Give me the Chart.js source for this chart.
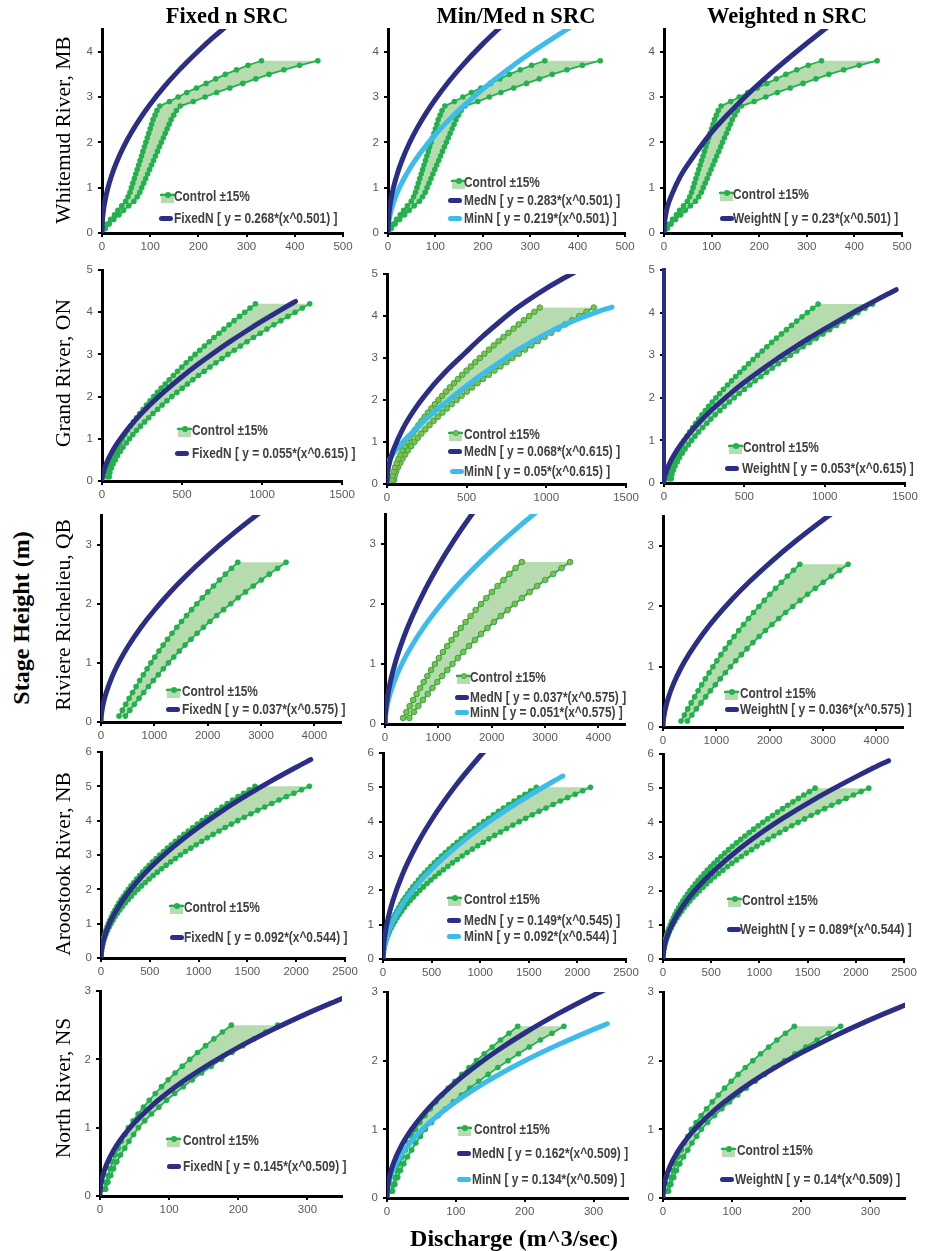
<!DOCTYPE html>
<html><head><meta charset="utf-8">
<script src="https://cdn.jsdelivr.net/npm/chart.js@4.4.1/dist/chart.umd.min.js"></script>
<style>
html,body{margin:0;padding:0;background:#fff;}
body{position:relative;width:925px;height:1251px;overflow:hidden;}
.ttl{position:absolute;font-family:"Liberation Serif","Times New Roman",serif;font-weight:bold;white-space:nowrap;color:#000;transform:translateX(-50%);}
.rot{position:absolute;white-space:nowrap;font-family:"Liberation Serif","Times New Roman",serif;color:#000;transform:translate(-50%,-50%) rotate(-90deg);line-height:1;}
.lg{position:absolute;font-family:"Liberation Sans Narrow","Arial Narrow","Liberation Sans",sans-serif;font-weight:bold;font-size:14px;line-height:16px;color:#404040;white-space:nowrap;transform:scaleX(0.85);transform-origin:0 50%;}
.sw{position:absolute;}
canvas{position:absolute;}
</style></head><body>
<script>
// ---------------- DATA ----------------
const COL_TITLES = ['Fixed n SRC', 'Min/Med n SRC', 'Weighted n SRC'];
const ROW_TITLES = ['Whitemud River, MB', 'Grand River, ON', 'Riviere Richelieu, QB', 'Aroostook River, NB', 'North River, NS'];
const X_MAX = [500, 1500, 4500, 2500, 350];
const Y_MAX = [4.5, 5, 3.5, 6, 3];
const X_TICKS = [[0,100,200,300,400,500],[0,500,1000,1500],[0,1000,2000,3000,4000],[0,500,1000,1500,2000,2500],[0,100,200,300]];
const Y_TICKS = [[0,1,2,3,4],[0,1,2,3,4,5],[0,1,2,3],[0,1,2,3,4,5,6],[0,1,2,3]];

// Control rating curves (stage m, discharge -15% / +15%)
const wmStage = [0.1,0.2,0.3,0.4,0.5,0.6,0.7,0.8,0.9,1.0,1.1,1.2,1.3,1.4,1.5,1.6,1.7,1.8,1.9,2.0,2.1,2.2,2.3,2.4,2.5,2.6,2.7,2.8,2.9,3.0,3.1,3.2,3.3,3.4,3.5,3.6,3.7,3.8];
const wmLow  = [5,11,18,26,33,41,49,54,58,61,64,67,70,73,76,79,82,85,88,91,94,97,100,103,106,110,114,120,140,158,176,196,216,236,256,279,303,331];
const wmHigh = [6.8,14.9,24.4,35.2,44.6,55.5,66.3,73.1,78.5,82.5,86.6,90.7,94.7,98.8,102.8,106.9,110.9,115.0,119.1,123.1,127.2,131.2,135.3,139.4,143.4,148.8,154.2,162.4,189.4,213.8,238.1,265.2,292.2,319.3,346.4,377.5,410.0,447.8];

const grStage = [0.1,0.2,0.3,0.4,0.5,0.6,0.7,0.8,0.9,1.0,1.1,1.2,1.3,1.4,1.5,1.6,1.7,1.8,1.9,2.0,2.1,2.2,2.3,2.4,2.5,2.6,2.7,2.8,2.9,3.0,3.1,3.2,3.3,3.4,3.5,3.6,3.7,3.8,3.9,4.0,4.1,4.2];
const grLow  = [33,36,43,51,61,72,84,97,112,127,143,160,178,197,216,236,257,278,300,323,346,370,395,420,446,472,499,526,554,582,611,640,670,700,731,762,794,826,859,892,925,959];
const grHigh = [45,49,58,69,83,97,114,131,152,172,193,216,241,267,292,319,348,376,406,437,468,501,534,568,603,639,675,712,750,787,827,866,906,947,989,1031,1074,1118,1162,1207,1252,1298];

const rrStage = [0.1,0.2,0.3,0.4,0.5,0.6,0.7,0.8,0.9,1.0,1.1,1.2,1.3,1.4,1.5,1.6,1.7,1.8,1.9,2.0,2.1,2.2,2.3,2.4,2.5,2.6,2.7];
const rrLow  = [338,400,463,527,592,658,725,794,864,935,1009,1086,1165,1247,1332,1420,1510,1604,1699,1798,1899,2004,2110,2220,2332,2447,2565];
const rrHigh = [457,541,626,713,801,890,981,1074,1169,1265,1365,1469,1576,1687,1802,1921,2043,2170,2299,2433,2569,2711,2855,3004,3155,3311,3470];

const arStage = [0.1,0.2,0.3,0.4,0.5,0.6,0.7,0.8,0.9,1.0,1.1,1.2,1.3,1.4,1.5,1.6,1.7,1.8,1.9,2.0,2.1,2.2,2.3,2.4,2.5,2.6,2.7,2.8,2.9,3.0,3.1,3.2,3.3,3.4,3.5,3.6,3.7,3.8,3.9,4.0,4.1,4.2,4.3,4.4,4.5,4.6,4.7,4.8,4.9,5.0];
const arLow  = [1.0,3.6,7.8,13.4,20.5,28.9,38.6,49.7,62.1,75.7,90.6,106.8,124.2,142.8,162.7,183.8,206.0,229.5,254.2,280.0,307.0,335.2,364.5,395.0,426.6,459.4,493.4,528.3,564.5,601.8,640.2,679.8,720.4,762.2,805.0,848.9,894.0,940.1,987.4,1035.6,1085.0,1135.4,1187.0,1239.6,1293.3,1348.1,1404.1,1460.7,1518.5,1577.8];
const arHigh = [1.3,4.9,10.6,18.1,27.7,39.1,52.2,67.2,84.0,102.4,122.6,144.5,168.0,193.2,220.1,248.7,278.7,310.5,343.9,378.8,415.4,453.5,493.2,534.4,577.2,621.6,667.6,714.8,763.8,814.2,866.2,919.8,974.7,1031.3,1089.2,1148.6,1209.6,1271.9,1336.0,1401.2,1468.0,1536.2,1606.0,1677.2,1749.8,1824.0,1899.7,1976.3,2054.6,2134.8];

const nrStage = [0.1,0.2,0.3,0.4,0.5,0.6,0.7,0.8,0.9,1.0,1.1,1.2,1.3,1.4,1.5,1.6,1.7,1.8,1.9,2.0,2.1,2.2,2.3,2.4,2.5];
const nrLow  = [6.0,8.5,11.5,14.5,18.0,22.0,26.5,31.0,36.0,41.0,47.8,55.1,62.9,71.2,79.9,89.0,98.6,108.6,119.0,129.9,141.1,152.7,164.7,177.1,189.9];
const nrHigh = [8.1,11.5,15.6,19.6,24.4,29.8,35.9,41.9,48.7,55.5,64.7,74.5,85.1,96.3,108.1,120.4,133.4,146.9,161.0,175.8,190.9,206.6,222.8,239.6,256.9];

// SRC curves (discharge, stage)
const wmFixedX  = [0,1,2,4,7,12,20,30,45,60,80,100,130,160,200,230,260];
const wmFixedY  = [0,0.284,0.402,0.568,0.751,0.984,1.270,1.555,1.905,2.200,2.540,2.840,3.238,3.593,4.016,4.308,4.578];
const wmMedX    = [0,1,2,4,7,12,20,30,45,60,80,100,130,160,200,240];
const wmMedY    = [0,0.295,0.417,0.590,0.781,1.022,1.319,1.616,1.979,2.285,2.639,2.950,3.364,3.731,4.172,4.570];
const wmMinX    = [0,1,2,4,7,12,20,30,45,60,80,100,130,160,200,250,300,350,390];
const wmMinY    = [0,0.175,0.256,0.373,0.507,0.681,0.901,1.125,1.404,1.643,1.923,2.173,2.509,2.809,3.175,3.586,3.964,4.310,4.575];
const wmWeightX = [0,1,3,7,17.7,35,60,96,138,174,223,273,330,345];
const wmWeightY = [0,0.21,0.37,0.57,0.88,1.26,1.66,2.17,2.66,3.04,3.51,3.955,4.435,4.555];

const grFixedX  = [0,2,5,10,20,40,70,100,150,200,300,400,500,600,700,800,900,1000,1100,1200,1210];
const grFixedY  = [0,0.083,0.146,0.223,0.341,0.523,0.738,0.919,1.179,1.407,1.805,2.155,2.472,2.765,3.040,3.301,3.549,3.786,4.015,4.236,4.257];
const grMedX    = [0,3,15,42,100,170,270,383,490,596,700,808,950,1100,1170];
const grMedY    = [0,0.22,0.50,0.83,1.32,1.76,2.26,2.73,3.12,3.50,3.84,4.17,4.54,4.88,5.02];
const grMinX    = [0,50,156,260,371,480,586,700,800,910,1015,1120,1229,1320,1412];
const grMinY    = [0.48,0.78,1.22,1.60,1.95,2.28,2.58,2.88,3.14,3.39,3.61,3.80,3.97,4.10,4.21];
const grWeightX = [0,2,5,10,20,40,70,100,150,200,300,400,500,600,700,800,900,1000,1100,1200,1300,1400,1445];
const grWeightY = [0,0.079,0.139,0.213,0.326,0.500,0.705,0.878,1.127,1.345,1.725,2.059,2.363,2.642,2.906,3.154,3.392,3.618,3.837,4.048,4.252,4.450,4.538];

const rrFixedX  = [0,5,20,50,100,200,350,500,750,1000,1300,1600,2000,2500,3000,3500];
const rrFixedY  = [0,0.090,0.199,0.338,0.503,0.749,1.033,1.269,1.602,1.890,2.198,2.477,2.815,3.201,3.555,3.884];
const rrMedX    = [0,5,20,50,100,200,350,500,750,1000,1300,1600,2000];
const rrMedY    = [0,0.125,0.278,0.471,0.702,1.046,1.443,1.771,2.237,2.639,3.069,3.458,3.930];
const rrMinX    = [0,5,20,50,100,200,350,500,750,1000,1300,1600,2000,2500,3000,3500];
const rrMinY    = [0,0.092,0.204,0.346,0.516,0.768,1.060,1.301,1.643,1.938,2.254,2.539,2.886,3.282,3.645,3.982];
const rrWeightX = [0,5,20,50,100,200,350,500,750,1000,1300,1600,2000,2500,3000,3500];
const rrWeightY = [0,0.087,0.193,0.326,0.486,0.724,0.999,1.226,1.548,1.826,2.124,2.393,2.720,3.093,3.435,3.753];

const arFixedX  = [0,3,10,25,50,100,200,350,500,750,1000,1250,1500,1750,2000,2150];
const arFixedY  = [0,0.162,0.311,0.512,0.747,1.089,1.587,2.152,2.613,3.258,3.810,4.302,4.749,5.165,5.555,5.779];
const arMedX    = [0,3,10,25,50,100,200,350,500,750,1000,1050];
const arMedY    = [0,0.251,0.483,0.795,1.159,1.690,2.463,3.341,4.056,5.058,5.915,6.073];
const arMinX    = [0,3,10,25,50,100,200,350,500,750,1000,1250,1500,1750,1850];
const arMinY    = [0,0.162,0.311,0.513,0.748,1.090,1.589,2.155,2.616,3.262,3.815,4.307,4.754,5.171,5.330];
const arWeightX = [0,3,10,25,50,100,200,350,500,750,1000,1250,1500,1750,2000,2150,2340];
const arWeightY = [0,0.155,0.298,0.491,0.716,1.045,1.523,2.065,2.507,3.126,3.656,4.128,4.557,4.956,5.330,5.545,5.806];

const nrFixedX  = [0,0.5,2,5,10,20,35,50,75,100,130,160,200,250,300,350];
const nrFixedY  = [0,0.103,0.209,0.333,0.473,0.674,0.895,1.074,1.320,1.528,1.746,1.941,2.175,2.436,2.673,2.891];
const nrMedX    = [0,0.5,2,5,10,20,35,50,75,100,130,160,200,250,300,320];
const nrMedY    = [0,0.114,0.231,0.368,0.523,0.744,0.990,1.187,1.459,1.689,1.930,2.145,2.403,2.692,2.954,3.052];
const nrMinX    = [0,0.5,2,5,10,20,35,50,75,100,130,160,200,250,300,320];
const nrMinY    = [0,0.095,0.192,0.306,0.435,0.619,0.823,0.987,1.213,1.404,1.605,1.784,1.998,2.238,2.456,2.538];
const nrWeightX = [0,0.5,2,5,10,20,35,50,75,100,130,160,200,250,300,350];
const nrWeightY = [0,0.100,0.203,0.323,0.460,0.655,0.870,1.044,1.283,1.485,1.698,1.887,2.114,2.368,2.598,2.810];

// ---------------- STYLE / LAYOUT ----------------
const NAVY = '#2B2E85', SKY = '#3DBCEC', GREEN = '#22B14C', BAND = '#B5DBAE', OLIVE = '#93B840', TICK = '#595959';
const TICK_FONT = '"Liberation Sans","Arial",sans-serif';
const YW = 34, PT = 14, PR = 26, XH = 30;

const CONTROLS = [
  {stage: wmStage, low: wmLow, high: wmHigh},
  {stage: grStage, low: grLow, high: grHigh},
  {stage: rrStage, low: rrLow, high: rrHigh},
  {stage: arStage, low: arLow, high: arHigh},
  {stage: nrStage, low: nrLow, high: nrHigh}
];

const CURVES = [
  [[['FixedN [ y = 0.268*(x^0.501) ]', wmFixedX, wmFixedY, NAVY]],
   [['MedN [ y = 0.283*(x^0.501) ]', wmMedX, wmMedY, NAVY], ['MinN [ y = 0.219*(x^0.501) ]', wmMinX, wmMinY, SKY]],
   [['WeightN [ y = 0.23*(x^0.501) ]', wmWeightX, wmWeightY, NAVY]]],
  [[['FixedN [ y = 0.055*(x^0.615) ]', grFixedX, grFixedY, NAVY]],
   [['MedN [ y = 0.068*(x^0.615) ]', grMedX, grMedY, NAVY], ['MinN [ y = 0.05*(x^0.615) ]', grMinX, grMinY, SKY]],
   [['WeightN [ y = 0.053*(x^0.615) ]', grWeightX, grWeightY, NAVY]]],
  [[['FixedN [ y = 0.037*(x^0.575) ]', rrFixedX, rrFixedY, NAVY]],
   [['MedN [ y = 0.037*(x^0.575) ]', rrMedX, rrMedY, NAVY], ['MinN [ y = 0.051*(x^0.575) ]', rrMinX, rrMinY, SKY]],
   [['WeightN [ y = 0.036*(x^0.575) ]', rrWeightX, rrWeightY, NAVY]]],
  [[['FixedN [ y = 0.092*(x^0.544) ]', arFixedX, arFixedY, NAVY]],
   [['MedN [ y = 0.149*(x^0.545) ]', arMedX, arMedY, NAVY], ['MinN [ y = 0.092*(x^0.544) ]', arMinX, arMinY, SKY]],
   [['WeightN [ y = 0.089*(x^0.544) ]', arWeightX, arWeightY, NAVY]]],
  [[['FixedN [ y = 0.145*(x^0.509) ]', nrFixedX, nrFixedY, NAVY]],
   [['MedN [ y = 0.162*(x^0.509) ]', nrMedX, nrMedY, NAVY], ['MinN [ y = 0.134*(x^0.509) ]', nrMinX, nrMinY, SKY]],
   [['WeightN [ y = 0.14*(x^0.509) ]', nrWeightX, nrWeightY, NAVY]]]
];

// plot areas [left, top, right, bottom] in page px
const AREAS = [
  [[102,29,343,233],[388,29,625,233],[664,29,902,233]],
  [[102,270,342,481],[387,274,626,484],[664,270,905,483]],
  [[101,515,341,722],[385,514,625,724],[663,516,903,727]],
  [[101,752,345,958],[383,753,626,959],[663,754,904,959]],
  [[100,991,342,1196],[387,992,628,1198],[663,992,905,1198]]
];
// legend rows: c = control [swatchX, centerY, textX], l = lines
const LEG = [
  [{c:[161,196,174], l:[[159,218,174]]}, {c:[452,182,464], l:[[448,200,464],[448,218,464]]}, {c:[720,194,733], l:[[720,218,733]]}],
  [{c:[178,430,192], l:[[175,453,192]]}, {c:[449,434,464], l:[[448,451,464],[450,471,464]]}, {c:[729,447,743], l:[[725,468,742]]}],
  [{c:[167,691,182], l:[[166,709,182]]}, {c:[457,677,470], l:[[455,697,470],[455,712,470]]}, {c:[725,693,740], l:[[725,709,740]]}],
  [{c:[170,907,184], l:[[170,937,184]]}, {c:[448,899,464], l:[[447,920,464],[447,936,464]]}, {c:[728,900,742], l:[[727,929,740]]}],
  [{c:[167,1140,183], l:[[167,1166,183]]}, {c:[458,1129,474], l:[[457,1153,472],[457,1179,472]]}, {c:[722,1150,737], l:[[720,1179,735]]}]
];

function el(cls, css, text) {
  const d = document.createElement('div');
  if (cls) d.className = cls;
  d.style.cssText = css;
  if (text !== undefined) d.textContent = text;
  document.body.appendChild(d);
  return d;
}

function makePanel(r, c) {
  const [l, t, rr, b] = AREAS[r][c];
  const W = (rr - l) + YW + PR, H = (b - t) + PT + XH;
  const cv = document.createElement('canvas');
  cv.width = W; cv.height = H;
  cv.style.cssText = `left:${l - YW}px;top:${t - PT}px;width:${W}px;height:${H}px;`;
  document.body.appendChild(cv);

  const ctl = CONTROLS[r];
  const low = ctl.low.map((x, i) => ({x, y: ctl.stage[i]}));
  const high = ctl.high.map((x, i) => ({x, y: ctl.stage[i]}));
  const shape = low.concat(high.slice().reverse());
  const olive = (c === 1 && (r === 1 || r === 2));

  const datasets = [];
  CURVES[r][c].forEach(([label, xs, ys, color]) => {
    datasets.push({
      label, data: xs.map((x, i) => ({x, y: ys[i]})),
      showLine: true, borderColor: color, backgroundColor: color, borderWidth: 5,
      pointRadius: 0, pointHoverRadius: 0, cubicInterpolationMode: 'monotone',
      borderCapStyle: 'round', fill: false, order: 1
    });
  });
  [low, high].forEach((d, k) => datasets.push({
    label: 'Control ±15%' + (k ? ' (+15%)' : ' (-15%)'), data: d, showLine: true,
    borderColor: GREEN, borderWidth: 1.8, pointRadius: 2.8, pointHoverRadius: 0,
    pointBackgroundColor: olive ? OLIVE : GREEN, pointBorderColor: GREEN, pointBorderWidth: olive ? 1 : 0,
    fill: false, tension: 0, order: 2
  }));
  datasets.push({
    label: 'Control band', data: shape, showLine: true, borderWidth: 0, borderColor: 'rgba(0,0,0,0)',
    backgroundColor: BAND, pointRadius: 0, pointHoverRadius: 0, fill: 'shape', tension: 0, order: 3
  });

  const navyAxis = (r === 1 && c === 2);
  new Chart(cv, {
    type: 'scatter',
    data: {datasets},
    options: {
      responsive: false, animation: false, events: [],
      layout: {padding: {left: 0, top: PT, right: PR, bottom: 0}},
      plugins: {legend: {display: false}, tooltip: {enabled: false}},
      scales: {
        x: {
          type: 'linear', min: 0, max: X_MAX[r],
          afterFit: s => { s.height = XH; },
          afterBuildTicks: s => { s.ticks = X_TICKS[r].map(v => ({value: v})); },
          border: {display: true, color: '#000', width: 3},
          grid: {drawOnChartArea: false, drawTicks: true, tickLength: 4, color: '#000', lineWidth: 2},
          ticks: {color: TICK, padding: 3, maxRotation: 0, autoSkip: false,
                  font: {family: TICK_FONT, size: 11.5}, callback: v => String(v)}
        },
        y: {
          type: 'linear', min: 0, max: Y_MAX[r],
          afterFit: s => { s.width = YW; },
          afterBuildTicks: s => { s.ticks = Y_TICKS[r].map(v => ({value: v})); },
          border: {display: true, color: navyAxis ? NAVY : '#000', width: navyAxis ? 4 : 3},
          grid: {drawOnChartArea: false, drawTicks: true, tickLength: 4, color: '#000', lineWidth: 2},
          ticks: {color: TICK, padding: 5, autoSkip: false,
                  font: {family: TICK_FONT, size: 11.5}, callback: v => String(v)}
        }
      }
    }
  });

  // legend (HTML)
  const lg = LEG[r][c];
  const [sx, cy, tx] = lg.c;
  el('sw', `left:${sx}px;top:${cy - 3}px;width:13px;height:10px;background:${BAND};`);
  el('sw', `left:${sx - 1}px;top:${cy - 2}px;width:15px;height:2px;background:${GREEN};`);
  el('sw', `left:${sx + 3.5}px;top:${cy - 4}px;width:6px;height:6px;border-radius:50%;background:${olive ? OLIVE : GREEN};box-sizing:border-box;border:${olive ? '1px solid ' + GREEN : '0'};`);
  el('lg', `left:${tx}px;top:${cy - 8}px;`, 'Control ±15%');
  CURVES[r][c].forEach(([label, xs, ys, color], k) => {
    const [lx, ly, ltx] = lg.l[k];
    el('sw', `left:${lx}px;top:${ly - 2.5}px;width:14px;height:5px;border-radius:2.5px;background:${color};`);
    el('lg', `left:${ltx}px;top:${ly - 8}px;`, label);
  });
}

for (let r = 0; r < 5; r++) for (let c = 0; c < 3; c++) makePanel(r, c);

// titles
const titleX = [227, 516, 787];
COL_TITLES.forEach((t, i) => el('ttl', `left:${titleX[i]}px;top:2px;font-size:22.5px;line-height:28px;`, t));
const rowY = [130, 373, 615, 864, 1088];
ROW_TITLES.forEach((t, i) => el('rot', `left:63.5px;top:${rowY[i]}px;font-size:21.5px;`, t));
el('rot', 'left:21px;top:618px;font-size:24px;font-weight:bold;', 'Stage Height (m)');
el('ttl', 'left:514px;top:1223px;font-size:24px;line-height:30px;', 'Discharge (m^3/sec)');
</script>
</body></html>
